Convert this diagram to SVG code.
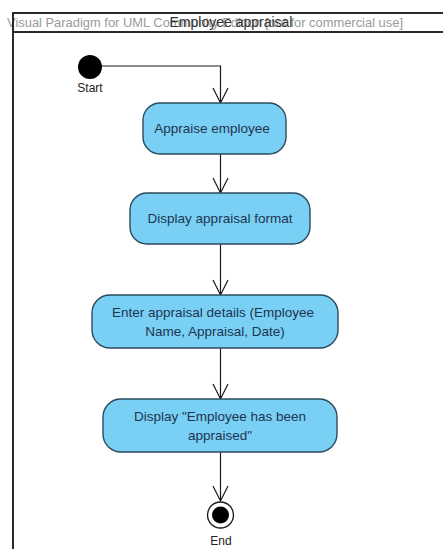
<svg xmlns="http://www.w3.org/2000/svg" width="443" height="549" viewBox="0 0 443 549">
  <style>
    .frame { fill: none; stroke: #2a2a2a; stroke-width: 2; }
    .action { fill: #7acff4; stroke: #2c4a5e; stroke-width: 1.4; }
    .label { font-family: "Liberation Sans", Arial, sans-serif; font-size: 13.5px; fill: #1c3550; text-anchor: middle; }
    .plain { font-family: "Liberation Sans", Arial, sans-serif; font-size: 12px; fill: #222; text-anchor: middle; }
    .wm { font-family: "Liberation Sans", Arial, sans-serif; font-size: 12px; fill: #9a9a9a; }
    .title { font-family: "Liberation Sans", Arial, sans-serif; font-size: 14px; fill: #333; text-anchor: middle; }
    .flow { fill: none; stroke: #1a1a1a; stroke-width: 1.2; }
  </style>
  <defs>
    <!-- open V arrowhead, tip at the end of the flow -->
    <marker id="open-arrow" markerUnits="userSpaceOnUse" markerWidth="20" markerHeight="20" viewBox="-17 -10 20 20" refX="0" refY="0" orient="auto">
      <path d="M -15,-7.5 L 0,0 L -15,7.5" fill="none" stroke="#1a1a1a" stroke-width="1.2"/>
    </marker>
  </defs>

  <rect width="443" height="549" fill="#ffffff"/>

  <!-- activity frame with header -->
  <g id="frame">
    <text class="wm" x="7" y="27" textLength="396" lengthAdjust="spacingAndGlyphs">Visual Paradigm for UML Community Edition [not for commercial use]</text>
    <path class="frame" d="M 13,560 L 13,13 L 450,13 M 13,32 L 450,32"/>
    <text class="title" x="231" y="27">Employee appraisal</text>
  </g>

  <!-- control flows -->
  <g id="connectors">
    <path class="flow" d="M 102,66 L 220.5,66 L 220.5,103" marker-end="url(#open-arrow)"/>
    <path class="flow" d="M 220.5,154 L 220.5,193" marker-end="url(#open-arrow)"/>
    <path class="flow" d="M 220.5,244 L 220.5,295" marker-end="url(#open-arrow)"/>
    <path class="flow" d="M 220.5,348 L 220.5,399" marker-end="url(#open-arrow)"/>
    <path class="flow" d="M 220.5,452 L 220.5,501" marker-end="url(#open-arrow)"/>
  </g>

  <g id="start">
    <circle cx="90" cy="67" r="12" fill="#000"/>
    <text class="plain" x="90" y="92">Start</text>
  </g>

  <g id="appraise-employee">
    <rect class="action" x="143" y="103" width="143" height="51" rx="17" ry="17"/>
    <text class="label" x="212" y="133">Appraise employee</text>
  </g>

  <g id="display-format">
    <rect class="action" x="130" y="193" width="180" height="51" rx="17" ry="17"/>
    <text class="label" x="220" y="223">Display appraisal format</text>
  </g>

  <g id="enter-details">
    <rect class="action" x="92" y="295" width="246" height="53" rx="18" ry="18"/>
    <text class="label" x="213" y="317">Enter appraisal details (Employee</text>
    <text class="label" x="215" y="336">Name, Appraisal, Date)</text>
  </g>

  <g id="display-confirmation">
    <rect class="action" x="103" y="399" width="234" height="53" rx="18" ry="18"/>
    <text class="label" x="220" y="421">Display "Employee has been</text>
    <text class="label" x="220" y="440">appraised"</text>
  </g>

  <g id="end">
    <circle cx="220.5" cy="515" r="13" fill="#fff" stroke="#1a1a1a" stroke-width="1.3"/>
    <circle cx="220.5" cy="515" r="8.5" fill="#000"/>
    <text class="plain" x="221" y="545">End</text>
  </g>
</svg>
